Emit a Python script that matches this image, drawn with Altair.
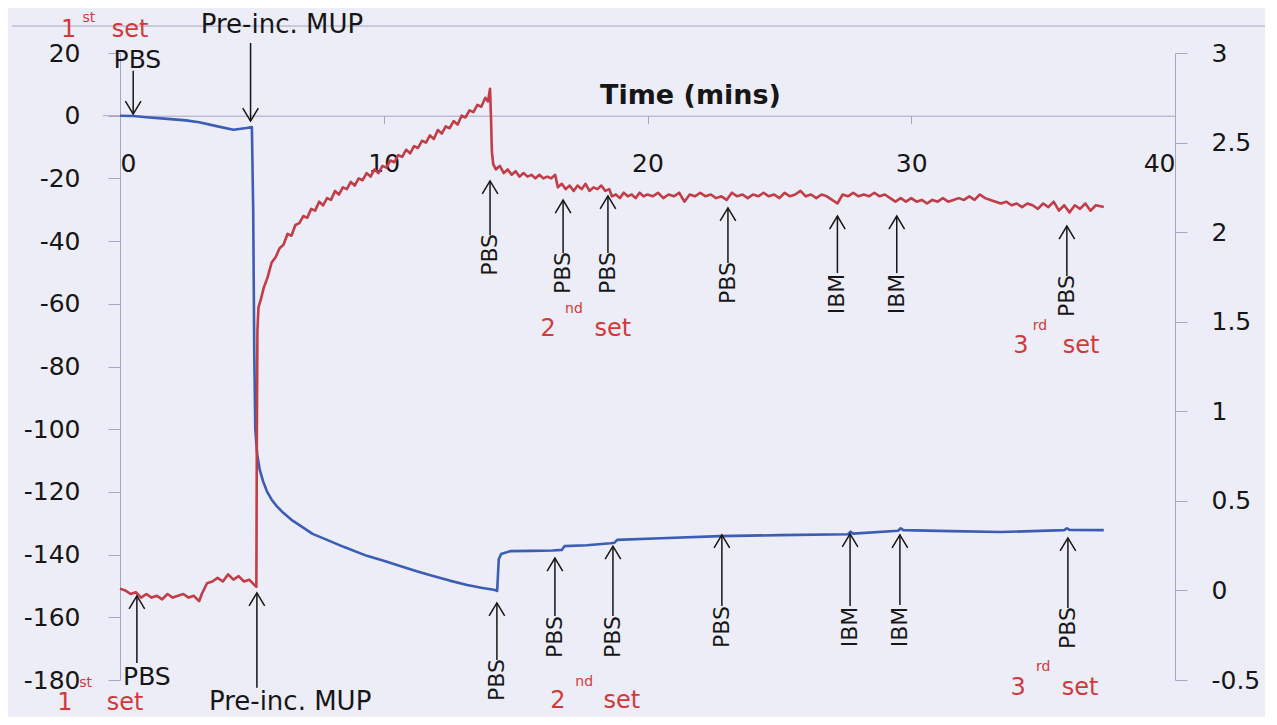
import altair as alt
import pandas as pd

FONT = "DejaVu Sans"
BLUE = "#3b5db5"
RED = "#c23d47"
SET_RED = "#d23a3a"
INK = "#161616"
AXIS_C = "#a6a6c6"
BG = "#ededf7"

# ---------------- data ----------------
# Frequency shift (left axis, Hz) - blue
blue_t = [
    0.0, 0.5, 1.0, 1.8, 2.5, 3.0, 3.7, 4.3, 4.8, 5.0,
    5.05, 5.09, 5.13, 5.2, 5.3, 5.42, 5.57, 5.75, 5.95, 6.18,
    6.5, 6.82, 7.3, 7.85, 8.5, 9.36, 10.0, 10.62, 11.25, 11.87,
    12.5, 13.16, 13.7, 14.22, 14.3, 14.36, 14.45, 14.79, 15.6, 16.4,
    16.75, 16.85, 17.7, 18.6, 18.75, 18.85, 20.5, 22.75, 25.0, 27.6,
    27.7, 27.8, 29.5, 29.6, 29.7, 31.5, 33.4, 35.8, 35.9, 36.0,
    37.3]
blue_v = [
    0.0, -0.1, -0.5, -1.0, -1.5, -2.1, -3.4, -4.5, -3.9, -3.6,
    -30.0, -75.0, -100.0, -108.0, -113.0, -116.5, -119.8, -122.5, -124.6, -126.6,
    -128.9, -130.7, -133.4, -135.3, -137.6, -140.4, -142.0, -143.6, -145.3, -146.8,
    -148.3, -149.7, -150.6, -151.3, -151.6, -141.5, -139.8, -138.9, -138.8, -138.7,
    -138.5, -137.3, -137.0, -136.4, -136.2, -135.3, -134.8, -134.1, -133.8, -133.5,
    -132.7, -133.3, -132.4, -131.6, -132.2, -132.5, -132.8, -132.2, -131.6, -132.1,
    -132.2]

# Dissipation (right axis) - red
red_t = [
    0.0, 0.2, 0.4, 0.6, 0.8, 1.0, 1.2, 1.4, 1.6, 1.8,
    2.0, 2.2, 2.4, 2.6, 2.8, 3.0, 3.1, 3.3, 3.5, 3.7,
    3.9, 4.1, 4.3, 4.5, 4.7, 4.9, 5.1, 5.17, 5.19, 5.21,
    5.25, 5.35, 5.45, 5.6, 5.75, 5.9, 6.05, 6.2, 6.35, 6.5,
    6.65, 6.8, 6.95, 7.1, 7.25, 7.4, 7.55, 7.7, 7.85, 8.0,
    8.15, 8.3, 8.45, 8.6, 8.75, 8.9, 9.05, 9.2, 9.35, 9.5,
    9.65, 9.8, 9.95, 10.1, 10.25, 10.4, 10.55, 10.7, 10.85, 11.0,
    11.15, 11.3, 11.45, 11.6, 11.75, 11.9, 12.05, 12.2, 12.35, 12.5,
    12.65, 12.8, 12.95, 13.1, 13.25, 13.4, 13.55, 13.7, 13.85, 13.95,
    14.03, 14.07, 14.1, 14.15, 14.25, 14.4, 14.55, 14.7, 14.85, 15.0,
    15.15, 15.3, 15.45, 15.6, 15.75, 15.9, 16.05, 16.2, 16.35, 16.5,
    16.6, 16.75, 16.9, 17.05, 17.2, 17.35, 17.5, 17.65, 17.8, 17.95,
    18.1, 18.25, 18.4, 18.55, 18.65, 18.8, 18.95, 19.1, 19.25, 19.4,
    19.55, 19.7, 19.85, 20.0, 20.2, 20.4, 20.6, 20.8, 21.0, 21.2,
    21.4, 21.6, 21.8, 22.0, 22.2, 22.4, 22.6, 22.8, 23.0, 23.2,
    23.4, 23.6, 23.8, 24.0, 24.2, 24.4, 24.6, 24.8, 25.0, 25.2,
    25.4, 25.6, 25.8, 26.0, 26.2, 26.4, 26.6, 26.8, 27.0, 27.2,
    27.4, 27.6, 27.8, 28.0, 28.2, 28.4, 28.6, 28.8, 29.0, 29.2,
    29.4, 29.6, 29.8, 30.0, 30.2, 30.4, 30.6, 30.8, 31.0, 31.2,
    31.4, 31.6, 31.8, 32.0, 32.2, 32.4, 32.6, 32.8, 33.0, 33.2,
    33.4, 33.6, 33.8, 34.0, 34.2, 34.4, 34.6, 34.8, 35.0, 35.2,
    35.4, 35.6, 35.8, 36.0, 36.2, 36.4, 36.6, 36.8, 37.0, 37.3]
red_v = [
    0.01, 0.00, -0.02, -0.01, -0.04, -0.02, -0.04, -0.03, -0.05, -0.02,
    -0.04, -0.03, -0.02, -0.04, -0.03, -0.06, -0.02, 0.04, 0.05, 0.07,
    0.05, 0.09, 0.06, 0.08, 0.05, 0.06, 0.03, 0.02, 0.90, 1.45,
    1.58, 1.63, 1.69, 1.75, 1.83, 1.86, 1.91, 1.93, 1.99, 1.98,
    2.04, 2.05, 2.09, 2.08, 2.13, 2.12, 2.17, 2.15, 2.19, 2.18,
    2.23, 2.21, 2.25, 2.24, 2.28, 2.26, 2.30, 2.29, 2.33, 2.31,
    2.35, 2.33, 2.37, 2.36, 2.40, 2.39, 2.43, 2.42, 2.46, 2.44,
    2.48, 2.47, 2.51, 2.50, 2.54, 2.52, 2.57, 2.55, 2.59, 2.58,
    2.62, 2.60, 2.65, 2.64, 2.68, 2.67, 2.71, 2.70, 2.75, 2.73,
    2.80, 2.62, 2.45, 2.38, 2.35, 2.37, 2.33, 2.35, 2.32, 2.34,
    2.31, 2.33, 2.31, 2.32, 2.30, 2.32, 2.30, 2.31, 2.30, 2.32,
    2.25, 2.27, 2.24, 2.26, 2.23, 2.26, 2.24, 2.27, 2.23, 2.25,
    2.24, 2.26, 2.23, 2.24, 2.20, 2.21, 2.19, 2.22, 2.20, 2.21,
    2.19, 2.22, 2.20, 2.21, 2.20, 2.22, 2.19, 2.21, 2.20, 2.22,
    2.17, 2.21, 2.20, 2.22, 2.20, 2.21, 2.19, 2.20, 2.18, 2.22,
    2.20, 2.21, 2.19, 2.21, 2.20, 2.22, 2.20, 2.21, 2.19, 2.22,
    2.20, 2.21, 2.23, 2.20, 2.21, 2.19, 2.21, 2.20, 2.18, 2.16,
    2.21, 2.20, 2.22, 2.20, 2.21, 2.20, 2.22, 2.20, 2.21, 2.19,
    2.17, 2.19, 2.17, 2.19, 2.17, 2.18, 2.16, 2.18, 2.17, 2.19,
    2.17, 2.18, 2.19, 2.18, 2.20, 2.18, 2.21, 2.19, 2.18, 2.17,
    2.16, 2.17, 2.15, 2.16, 2.14, 2.16, 2.15, 2.13, 2.16, 2.14,
    2.17, 2.12, 2.15, 2.11, 2.15, 2.13, 2.16, 2.12, 2.15, 2.14]

assert len(blue_t) == len(blue_v)
assert len(red_t) == len(red_v)

# axis tick values
x_ticks = [0, 10, 20, 30, 40]
left_ticks = [20, 0, -20, -40, -60, -80, -100, -120, -140, -160, -180]
right_ticks = [3, 2.5, 2, 1.5, 1, 0.5, 0, -0.5]

# Annotations (all in time / left-axis units)
# upward arrows: event time, arrow tip, arrow tail
up_t = [14.03, 16.8, 18.5, 23.05, 27.2, 29.45, 35.9,
        0.64, 5.19, 14.29, 16.49, 18.69, 22.82, 27.68, 29.57, 35.94]
up_tip = [-20.8, -26.9, -25.6, -29.4, -32.0, -32.0, -35.2,
          -153.2, -152.2, -155.4, -141.1, -137.3, -133.7, -133.4, -133.7, -134.7]
up_tail = [-38.1, -43.8, -43.8, -47.0, -50.2, -50.2, -51.1,
           -174.6, -182.5, -173.6, -159.6, -159.6, -156.4, -156.4, -156.1, -157.0]
# downward arrows
down_t = [0.5, 4.95]
down_tip = [0.5, -1.7]
down_tail = [14.3, 23.2]

# rotated event labels
vlabel_text = ["PBS", "PBS", "PBS", "PBS", "IBM", "IBM", "PBS",
               "PBS", "PBS", "PBS", "PBS", "IBM", "IBM", "PBS"]
vlabel_t = [14.03, 16.8, 18.5, 23.05, 27.2, 29.45, 35.9,
            14.29, 16.49, 18.69, 22.82, 27.68, 29.57, 35.94]
vlabel_v = [-44.4, -50.2, -50.2, -53.4, -56.9, -56.9, -57.5,
            -180.0, -166.3, -166.3, -163.1, -163.1, -163.1, -163.4]

# horizontal event labels
pbs_text = ["PBS", "PBS"]
pbs_t = [0.66, 1.02]
pbs_v = [15.2, -181.6]
mup_text = ["Pre-inc. MUP", "Pre-inc. MUP"]
mup_t = [6.14, 6.45]
mup_v = [26.4, -189.6]

# red "n-th set" labels
set_text = ["1", "set", "2", "set", "3", "set", "1", "set", "2", "set", "3", "set"]
set_t = [-1.95, 0.38, 16.23, 18.69, 34.16, 36.44, -2.09, 0.19, 16.6, 19.03, 34.05, 36.4]
set_v = [25.0, 25.0, -70.3, -70.3, -75.7, -75.7, -189.6, -189.6, -189.0, -189.0, -184.8, -184.8]
sup_text = ["st", "nd", "rd", "st", "nd", "rd"]
sup_t = [-1.18, 17.21, 34.88, -1.3, 17.6, 35.0]
sup_v = [30.0, -62.9, -68.4, -182.3, -182.0, -177.1]

# frame line at top and the short axis stub left of zero
frame_t = [-4.1, -0.65]
frame_t2 = [43.8, 0.0]
frame_v = [28.6, 0.0]

# ---------------- chart ----------------
W, H = 1055, 627
y0_px = H * (20 - 0) / 200.0

xs = alt.Scale(domain=[0, 40], nice=False, zero=False)
ls = alt.Scale(domain=[-180, 20], nice=False, zero=False)
rs = alt.Scale(domain=[-0.5, 3], nice=False, zero=False)

x_axis = alt.Axis(values=x_ticks, offset=-(H - y0_px), grid=False,
                  domainColor=AXIS_C, tickColor=AXIS_C, tickSize=8,
                  labelFont=FONT, labelFontSize=25, labelColor=INK, labelPadding=28,
                  title="Time (mins)", titleFont=FONT, titleFontSize=27,
                  titleFontWeight="bold", titleColor=INK, titleX=570, titleY=-20,
                  titleAlign="center", titleBaseline="middle")
l_axis = alt.Axis(values=left_ticks, grid=False, domainColor=AXIS_C, tickColor=AXIS_C,
                  tickSize=12, labelFont=FONT, labelFontSize=25, labelColor=INK,
                  labelPadding=28, labelExpr="'' + datum.value", title=None)
r_axis = alt.Axis(values=right_ticks, orient="right", grid=False, domainColor=AXIS_C,
                  tickColor=AXIS_C, tickSize=12, labelFont=FONT, labelFontSize=25,
                  labelColor=INK, labelPadding=24, labelExpr="'' + datum.value", title=None)


def X(field="t"):
    return alt.X(f"{field}:Q", scale=xs, axis=x_axis)


def LY(field="v"):
    return alt.Y(f"{field}:Q", scale=ls, axis=None)


blue_df = pd.DataFrame({"t": blue_t, "v": blue_v})
red_df = pd.DataFrame({"t": red_t, "v": red_v})
up_df = pd.DataFrame({"t": up_t, "tip": up_tip, "tail": up_tail})
down_df = pd.DataFrame({"t": down_t, "tip": down_tip, "tail": down_tail})
vlab_df = pd.DataFrame({"t": vlabel_t, "v": vlabel_v, "label": vlabel_text})
pbs_df = pd.DataFrame({"t": pbs_t, "v": pbs_v, "label": pbs_text})
mup_df = pd.DataFrame({"t": mup_t, "v": mup_v, "label": mup_text})
set_df = pd.DataFrame({"t": set_t, "v": set_v, "label": set_text})
sup_df = pd.DataFrame({"t": sup_t, "v": sup_v, "label": sup_text})
frame_df = pd.DataFrame({"t": frame_t, "t2": frame_t2, "v": frame_v})

frame = alt.Chart(frame_df).mark_rule(color=AXIS_C, strokeWidth=1).encode(
    x=X(), x2="t2:Q", y=LY())

blue = alt.Chart(blue_df).mark_line(color=BLUE, strokeWidth=2.6, strokeJoin="round").encode(
    x=X(), y=alt.Y("v:Q", scale=ls, axis=l_axis))

red = alt.Chart(red_df).mark_line(color=RED, strokeWidth=2.6, strokeJoin="round").encode(
    x=X(), y=alt.Y("v:Q", scale=rs, axis=r_axis))

up_shaft = alt.Chart(up_df).mark_rule(color=INK, strokeWidth=1.5).encode(
    x=X(), y=LY("tip"), y2="tail:Q")
up_head = alt.Chart(up_df).mark_point(shape="M-0.6,1L0,0L0.6,1", filled=False, size=676,
                                      color=INK, strokeWidth=1.5, opacity=1).encode(
    x=X(), y=LY("tip"))
down_shaft = alt.Chart(down_df).mark_rule(color=INK, strokeWidth=1.5).encode(
    x=X(), y=LY("tip"), y2="tail:Q")
down_head = alt.Chart(down_df).mark_point(shape="M-0.6,-1L0,0L0.6,-1", filled=False, size=676,
                                          color=INK, strokeWidth=1.5, opacity=1).encode(
    x=X(), y=LY("tip"))

vlab = alt.Chart(vlab_df).mark_text(angle=270, font=FONT, fontSize=22, color=INK,
                                    align="center", baseline="middle").encode(
    x=X(), y=LY(), text="label:N")
pbs_lab = alt.Chart(pbs_df).mark_text(font=FONT, fontSize=25, color=INK,
                                      align="center", baseline="alphabetic").encode(
    x=X(), y=LY(), text="label:N")
mup_lab = alt.Chart(mup_df).mark_text(font=FONT, fontSize=26, color=INK,
                                      align="center", baseline="alphabetic").encode(
    x=X(), y=LY(), text="label:N")
set_lab = alt.Chart(set_df).mark_text(font=FONT, fontSize=24, color=SET_RED,
                                      align="center", baseline="alphabetic").encode(
    x=X(), y=LY(), text="label:N")
sup_lab = alt.Chart(sup_df).mark_text(font=FONT, fontSize=14, color=SET_RED,
                                      align="center", baseline="alphabetic").encode(
    x=X(), y=LY(), text="label:N")

chart = alt.layer(
    frame, blue, red, up_shaft, up_head, down_shaft, down_head,
    vlab, pbs_lab, mup_lab, set_lab, sup_lab
).resolve_scale(y="independent").resolve_axis(y="independent").properties(
    width=W, height=H,
    autosize=alt.AutoSizeParams(type="none"),
    padding={"left": 112, "top": 45, "right": 90, "bottom": 37},
    background=BG,
).configure_view(stroke=None)

chart.save("out.html", embed_options={"renderer": "svg", "actions": False})
